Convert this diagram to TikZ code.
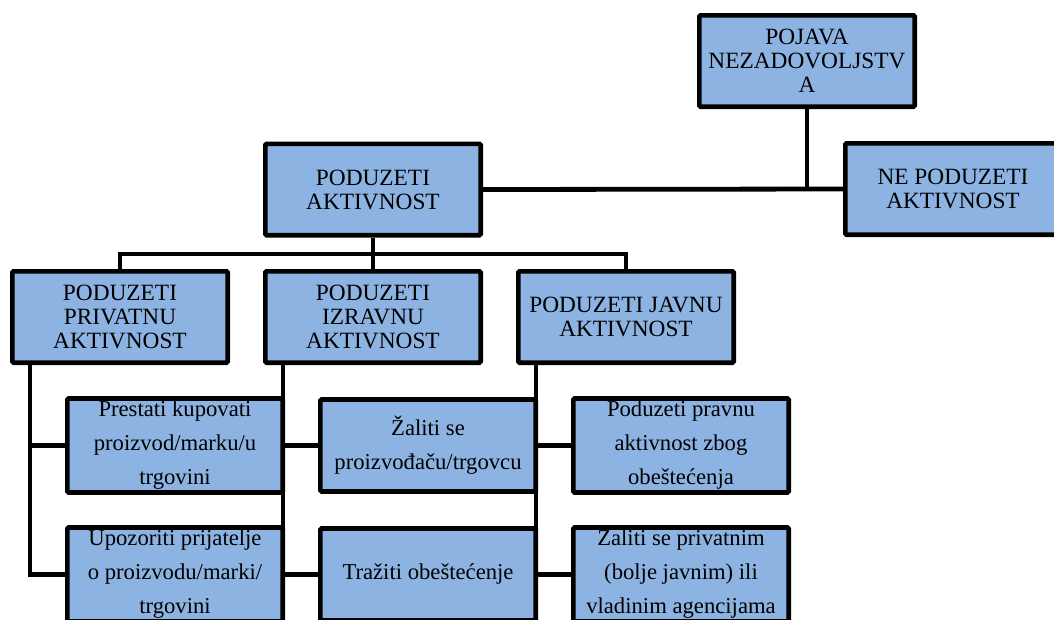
\documentclass[tikz,border=0pt]{standalone}
\usepackage{fontspec}
\setmainfont{Liberation Serif}
\usepackage{xcolor}
\definecolor{boxblue}{HTML}{8DB3E2}
\tikzset{
  box/.style={draw=black, fill=boxblue, line width=3.5pt, rounded corners=1pt,
    minimum width=161.5pt, minimum height=68.5pt, inner sep=2pt, align=center,
    font=\rmfamily\fontsize{17.5}{18}\selectfont},
  subbox/.style={box, minimum height=69pt, font=\rmfamily\fontsize{17}{25.5}\selectfont},
  link/.style={line width=3.6pt}
}

\begin{document}
\begin{tikzpicture}[x=0.75pt, y=-0.75pt]
        \useasboundingbox (0,0) rectangle (1054,619);
        \clip (0,0) rectangle (1054,619);
        \node[box] (pojava) at (807,61) {POJAVA\\NEZADOVOLJSTV\\A};
        \node[box] (akt) at (373,189.5) {PODUZETI\\AKTIVNOST};
        \node[box] (ne) at (953,189) {NE PODUZETI\\AKTIVNOST};
        \node[box] (priv) at (120,317) {PODUZETI\\PRIVATNU\\AKTIVNOST};
        \node[box] (izr) at (373,317) {PODUZETI\\IZRAVNU\\AKTIVNOST};
        \node[box] (javn) at (626,317) {PODUZETI JAVNU\\AKTIVNOST};
        \node[subbox] (priv1) at (175,445.5) {Prestati kupovati\\proizvod/marku/u\\trgovini};
        \node[subbox] (priv2) at (175,574.5) {Upozoriti prijatelje\\o proizvodu/marki/\\trgovini};
        \node[subbox] (izr1) at (428,445.5) {Žaliti se\\proizvođaču/trgovcu};
        \node[subbox] (izr2) at (428,574.5) {Tražiti obeštećenje};
        \node[subbox] (javn1) at (681,445.5) {Poduzeti pravnu\\aktivnost zbog\\obeštećenja};
        \node[subbox] (javn2) at (681,574.5) {Zaliti se privatnim\\(bolje javnim) ili\\vladinim agencijama};
        \coordinate (bus) at (373,254);
        \draw[link] (akt.east) -- (ne.west);
        \draw[link] (pojava.south) -- (pojava.south |- akt.east);
        \draw[link] (akt.south) -- (izr.north);
        \draw[link] (priv.north) |- (bus) -| (javn.north);
        \draw[link] ([xshift=15pt]priv.south west) |- (priv1.west);
        \draw[link] ([xshift=15pt]priv.south west) |- (priv2.west);
        \draw[link] ([xshift=15pt]izr.south west) |- (izr1.west);
        \draw[link] ([xshift=15pt]izr.south west) |- (izr2.west);
        \draw[link] ([xshift=15pt]javn.south west) |- (javn1.west);
        \draw[link] ([xshift=15pt]javn.south west) |- (javn2.west);
\end{tikzpicture}
\end{document}
